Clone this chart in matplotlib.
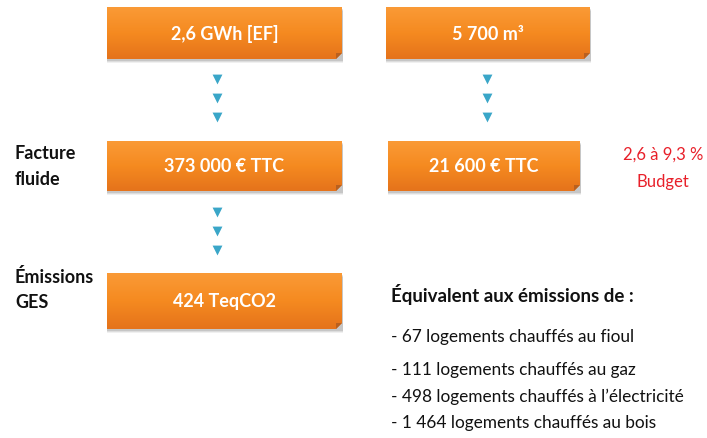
import numpy as np
import matplotlib
matplotlib.use("Agg")
import matplotlib.pyplot as plt
from matplotlib.patches import Polygon

# ---- content ----
box_labels = ["2,6 GWh [EF]", "5 700 m³", "373 000 € TTC", "21 600 € TTC", "424 TeqCO2"]
row_labels = [("Facture", "fluide"), ("Émissions", "GES")]
budget_lines = ["2,6 à 9,3 %", "Budget"]
equiv_title = "Équivalent aux émissions de :"
equiv_items = [
    "- 67 logements chauffés au fioul",
    "- 111 logements chauffés au gaz",
    "- 498 logements chauffés à l’électricité",
    "- 1 464 logements chauffés au bois",
]

# layout in pixel coords (x0, y0, x1, y1)
boxes = [(107, 8, 342, 60), (386, 8, 590, 60), (107, 142, 342, 192),
         (388, 142, 580, 192), (107, 274, 342, 330)]
arrow_cols = [(217, [80, 99, 118]), (487, [80, 99, 118]), (217, [213, 232, 251])]

plt.rcParams["font.family"] = ["Lato", "DejaVu Sans"]

fig = plt.figure(figsize=(7.07, 4.39), dpi=100)
ax = fig.add_axes([0, 0, 1, 1])
ax.set_xlim(0, 707)
ax.set_ylim(439, 0)
ax.axis("off")

grad = np.linspace(0, 1, 64).reshape(-1, 1)
cmap = matplotlib.colors.LinearSegmentedColormap.from_list(
    "org", ["#FA9A36", "#F58A20", "#E5731B"])

for (x0, y0, x1, y1), label in zip(boxes, box_labels):
    fold = 6
    # soft shadow
    for k, a in [(4, 0.06), (3, 0.08), (2, 0.1)]:
        ax.add_patch(Polygon([(x0, y0 + k), (x1 + 1, y0 + k), (x1 + 1, y1 + k), (x0, y1 + k)],
                             closed=True, facecolor="#000000", alpha=a, edgecolor="none", zorder=1))
    shape = Polygon([(x0, y0), (x1, y0), (x1, y1 - fold), (x1 - fold, y1), (x0, y1)],
                    closed=True, facecolor="none", edgecolor="none", zorder=2)
    ax.add_patch(shape)
    im = ax.imshow(grad, cmap=cmap, extent=(x0, x1, y1, y0), aspect="auto", zorder=2)
    im.set_clip_path(shape)
    ax.add_patch(Polygon([(x1, y1 - fold), (x1 - fold, y1), (x1 - fold, y1 - fold)],
                         closed=True, facecolor="#B9601F", edgecolor="none", zorder=3))
    ax.text((x0 + x1) / 2, (y0 + y1) / 2, label, ha="center", va="center",
            color="white", fontsize=13, fontweight="bold", zorder=4)

for x, ys in arrow_cols:
    ax.scatter([x] * len(ys), ys, marker="v", s=50, color="#3AA6C8", zorder=3, linewidths=0)

for (l1, l2), yc in zip(row_labels, [167, 290]):
    ax.text(15, yc - 13, l1, ha="left", va="center", fontsize=13, fontweight="bold", color="#111111")
    ax.text(15, yc + 13, l2, ha="left", va="center", fontsize=13, fontweight="bold", color="#111111")

ax.text(663, 155, budget_lines[0], ha="center", va="center", fontsize=12, color="#E8202A")
ax.text(663, 182, budget_lines[1], ha="center", va="center", fontsize=12, color="#E8202A")

ax.text(391, 295, equiv_title, ha="left", va="center", fontsize=13.5, fontweight="bold", color="#111111")
for y, item in zip([337, 370, 397, 423], equiv_items):
    ax.text(391, y, item, ha="left", va="center", fontsize=12.4, color="#111111")

fig.savefig("out.png", dpi=100)
